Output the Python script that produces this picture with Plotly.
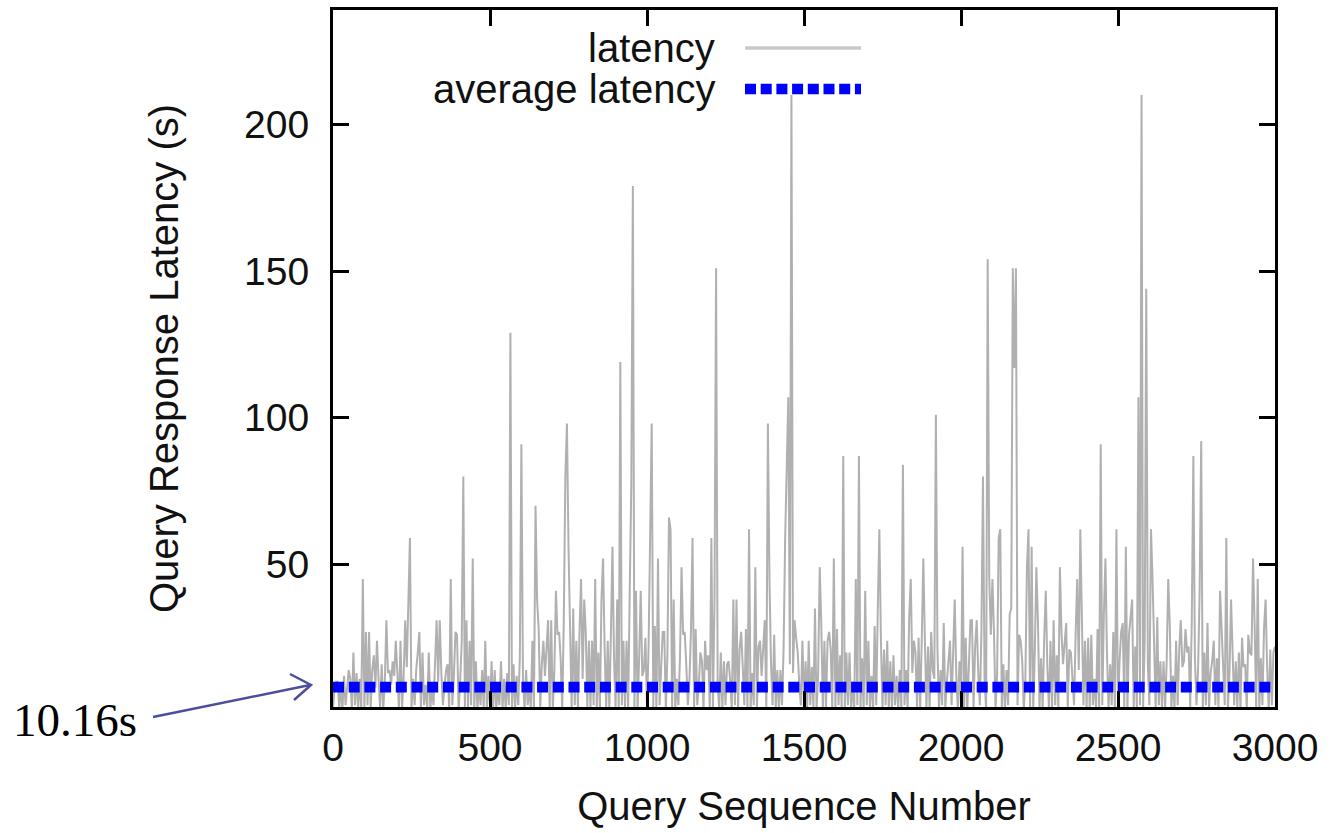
import plotly.graph_objects as go

# ---------------- data ----------------
QUERY_STEP = 5
# background latency level, one row per 100 queries (20 samples of step 5)
base_rows = [
    [1, 8, 0.5, 10, 1, 9, 0.5, 12, 2, 8, 0.5, 11, 1, 9, 2, 13, 0.5, 11, 1, 10],
    [0.5, 12, 2, 9, 1, 14, 0.5, 8, 2, 11, 1, 16, 0.5, 10, 2, 13, 1, 9, 0.5, 12],
    [2, 13, 0.5, 9, 1, 12, 2, 15, 0.5, 8, 1, 11, 2, 14, 0.5, 10, 1, 17, 2, 9],
    [1, 11, 0.5, 9, 2, 14, 1, 10, 0.5, 13, 2, 8, 1, 16, 0.5, 10, 2, 12, 1, 14],
    [0.5, 10, 2, 13, 1, 11, 0.5, 15, 2, 9, 1, 12, 0.5, 10, 2, 14, 1, 8, 0.5, 12],
    [2, 10, 1, 14, 0.5, 9, 2, 17, 1, 11, 0.5, 13, 2, 9, 1, 16, 0.5, 12, 2, 18],
    [1, 11, 0.5, 25, 2, 8, 1, 19, 0.5, 12, 2, 28, 1, 16, 0.5, 12, 2, 20, 1, 24],
    [0.5, 14, 2, 26, 1, 18, 0.5, 12, 2, 21, 1, 30, 0.5, 15, 2, 13, 1, 27, 0.5, 11],
    [2, 16, 1, 24, 0.5, 20, 2, 13, 1, 29, 0.5, 10, 2, 22, 1, 12, 0.5, 26, 2, 18],
    [1, 13, 0.5, 19, 2, 31, 1, 16, 0.5, 21, 2, 9, 1, 27, 0.5, 18, 2, 12, 1, 25],
    [0.5, 22, 2, 15, 1, 29, 0.5, 12, 2, 17, 1, 25, 0.5, 19, 2, 13, 1, 32, 0.5, 11],
    [2, 18, 1, 26, 0.5, 16, 2, 10, 1, 21, 0.5, 28, 2, 9, 1, 17, 0.5, 24, 2, 19],
    [1, 27, 0.5, 17, 2, 9, 1, 20, 0.5, 30, 2, 16, 1, 10, 0.5, 25, 2, 14, 1, 21],
    [0.5, 15, 2, 28, 1, 19, 0.5, 13, 2, 24, 1, 22, 0.5, 12, 2, 31, 1, 10, 0.5, 16],
    [2, 26, 1, 18, 0.5, 14, 2, 21, 1, 29, 0.5, 16, 2, 13, 1, 25, 0.5, 9, 2, 23],
    [1, 17, 0.5, 27, 2, 15, 1, 20, 0.5, 12, 2, 30, 1, 9, 0.5, 24, 2, 21, 1, 11],
    [0.5, 28, 2, 19, 1, 11, 0.5, 26, 2, 22, 1, 10, 0.5, 31, 2, 12, 1, 18, 0.5, 25],
    [2, 20, 1, 12, 0.5, 29, 2, 9, 1, 24, 0.5, 21, 2, 13, 1, 27, 0.5, 19, 2, 12],
    [1, 14, 0.5, 26, 2, 10, 1, 32, 0.5, 13, 2, 20, 1, 25, 0.5, 17, 2, 9, 1, 22],
    [0.5, 27, 2, 11, 1, 21, 0.5, 14, 2, 30, 1, 10, 0.5, 24, 2, 19, 1, 12, 0.5, 28],
    [2, 12, 1, 25, 0.5, 15, 2, 31, 1, 22, 0.5, 13, 2, 27, 1, 11, 0.5, 20, 2, 26],
    [1, 29, 0.5, 13, 2, 24, 1, 16, 0.5, 21, 2, 33, 1, 19, 0.5, 14, 2, 26, 1, 17],
    [0.5, 11, 2, 28, 1, 14, 0.5, 20, 2, 31, 1, 18, 0.5, 25, 2, 15, 1, 22, 0.5, 29],
    [2, 19, 1, 27, 0.5, 16, 2, 30, 1, 21, 0.5, 11, 2, 26, 1, 14, 0.5, 32, 2, 20],
    [1, 25, 0.5, 21, 2, 11, 1, 28, 0.5, 14, 2, 33, 1, 19, 0.5, 16, 2, 27, 1, 18],
    [0.5, 17, 2, 30, 1, 20, 0.5, 26, 2, 15, 1, 22, 0.5, 31, 2, 18, 1, 24, 0.5, 16],
    [2, 27, 1, 16, 0.5, 32, 2, 19, 1, 24, 0.5, 17, 2, 29, 1, 12, 0.5, 25, 2, 21],
    [1, 15, 0.5, 28, 2, 22, 1, 31, 0.5, 18, 2, 14, 1, 26, 0.5, 20, 2, 30, 1, 13],
    [0.5, 24, 2, 18, 1, 29, 0.5, 15, 2, 27, 1, 13, 0.5, 22, 2, 31, 1, 19, 0.5, 25],
    [2, 16, 1, 26, 0.5, 19, 2, 30, 1, 23, 0.5, 18, 2, 28, 1, 15, 0.5, 21, 2, 27],
]
last_value = 22  # query 3000

# individual latency spikes (query number, seconds)
spike_x = [10, 50, 65, 95, 105, 115, 130, 140, 170, 180, 190, 200, 215, 230, 240, 245,
           270, 275, 285, 305, 330, 340, 360, 375, 390, 395, 410, 415, 425, 435, 445, 455,
           485, 505,
           565, 600, 615, 635, 645, 650, 670, 680, 685, 695, 710, 720, 735, 740, 745, 750,
           765, 775, 790, 800, 805, 825, 835, 845, 855, 860, 875, 890, 905, 915, 925, 935,
           945, 950, 955, 965, 980, 990, 1010, 1015, 1035, 1050,
           1055, 1070, 1075, 1085, 1110, 1120, 1140, 1145, 1170, 1190, 1205, 1215, 1220,
           1245, 1260, 1275, 1285, 1300, 1325, 1345, 1360, 1370, 1385, 1390, 1415, 1440,
           1445, 1450, 1460, 1470, 1480, 1495, 1515, 1535, 1550, 1565, 1580,
           1595, 1625, 1635, 1645, 1665, 1675, 1695, 1705, 1735, 1740, 1765, 1775, 1815,
           1825, 1840, 1850, 1875, 1880, 1885, 1910, 1920, 1935, 1960, 1980, 1995, 2005,
           2030, 2050, 2070, 2085, 2090, 2100, 2105,
           2120, 2125, 2145, 2160, 2165, 2170, 2175, 2190, 2210, 2215, 2225, 2240, 2270,
           2285, 2295, 2315, 2320, 2330, 2350, 2370, 2380, 2395, 2415, 2445, 2460, 2495,
           2510, 2525, 2540, 2545, 2565, 2575, 2590, 2605, 2610,
           2635, 2645, 2660, 2685, 2700, 2710, 2720, 2740, 2760, 2765, 2800, 2825, 2830,
           2845, 2860, 2875, 2885, 2900, 2920, 2930, 2945, 2970, 2995]
spike_y = [10, 14, 20, 45, 27, 27, 19, 24, 31, 14, 17, 24, 24, 31, 41, 59,
           20, 27, 20, 20, 31, 31, 14, 45, 27, 26, 24, 80, 31, 24, 52, 17,
           24, 17,
           129, 91, 14, 24, 70, 38, 24, 24, 31, 31, 41, 27, 31, 80, 98, 56,
           35, 24, 45, 38, 27, 24, 45, 20, 38, 52, 24, 56, 38, 119, 24, 24,
           41, 77, 179, 41, 41, 14, 57, 98, 52, 27,
           27, 66, 62, 38, 49, 27, 27, 59, 20, 14, 59, 38, 151,
           17, 17, 38, 38, 27, 62, 49, 24, 24, 98, 45, 14, 59,
           84, 107, 210, 31, 20, 24, 24, 35, 49, 24, 27,
           52, 87, 20, 20, 45, 87, 41, 24, 35, 62, 24, 17, 84,
           14, 45, 24, 24, 52, 24, 14, 101, 14, 17, 38, 17, 56,
           31, 31, 80, 154, 45, 45, 27,
           59, 62, 14, 35, 151, 117, 151, 24, 49, 62, 56, 49, 41,
           24, 31, 49, 27, 24, 20, 45, 62, 24, 26, 91, 52, 62,
           27, 56, 31, 38, 107, 210, 144, 62, 45,
           17, 17, 45, 24, 31, 17, 20, 87, 41, 92, 17, 41, 24,
           59, 38, 17, 20, 15, 20, 52, 45, 38, 20]

avg_latency = 8.2          # level of the dashed average line as drawn
avg_label = "10.16s"

x_ticks = [0, 500, 1000, 1500, 2000, 2500, 3000]
y_ticks = [50, 100, 150, 200]

# ---------------- assemble series ----------------
latency = [v for row in base_rows for v in row] + [last_value]
for sx, sy in zip(spike_x, spike_y):
    latency[sx // QUERY_STEP] = sy
query = list(range(0, 3001, QUERY_STEP))

# ---------------- figure ----------------
W, H = 1332, 833
L, R, T, B = 333, 57, 10, 126
pw, ph = W - L - R, H - T - B


def px(x):
    return (x - L) / pw


def py(y):
    return (H - B - y) / ph


FONT = "Liberation Sans, Arial, Helvetica, sans-serif"

fig = go.Figure()
fig.add_trace(go.Scatter(
    x=query, y=latency, mode="lines", name="latency",
    line=dict(color="rgb(176,176,176)", width=2.0), showlegend=False,
))
fig.add_trace(go.Scatter(
    x=[0, 3000], y=[avg_latency, avg_latency], mode="lines", name="average latency",
    line=dict(color="#0000ff", width=10.7, dash="11px,4.7px"), showlegend=False,
))

axis_common = dict(
    showline=True, linecolor="black", linewidth=3, mirror="ticks",
    ticks="inside", ticklen=16, tickwidth=3, tickcolor="black",
    showgrid=False, zeroline=False, automargin=False,
    tickfont=dict(family=FONT, size=39, color="#111111"),
)

fig.update_layout(
    width=W, height=H,
    margin=dict(l=L, r=R, t=T, b=B, pad=0, autoexpand=False),
    paper_bgcolor="white", plot_bgcolor="white",
    showlegend=False,
    xaxis=dict(range=[0, 3000], tickvals=x_ticks, ticklabelstandoff=4,
               title=dict(text="Query Sequence Number", standoff=25,
                          font=dict(family=FONT, size=40, color="#111111")),
               **axis_common),
    yaxis=dict(range=[1.4, 239], tickvals=y_ticks, ticklabelstandoff=13,
               title=dict(text="Query Response Latency (s)", standoff=54,
                          font=dict(family=FONT, size=40, color="#111111")),
               **axis_common),
)

# legend drawn gnuplot-style (text right-aligned, sample to the right)
leg_text_x = px(717)
for label, ypix in [("latency", 48), ("average latency", 89)]:
    fig.add_annotation(x=leg_text_x, y=py(ypix), xref="paper", yref="paper",
                       text=label, showarrow=False, xanchor="right", yanchor="middle",
                       font=dict(family=FONT, size=40, color="#111111"))
fig.add_shape(type="line", xref="paper", yref="paper",
              x0=px(745), x1=px(861), y0=py(48), y1=py(48),
              line=dict(color="rgb(200,200,200)", width=3.5))
fig.add_shape(type="line", xref="paper", yref="paper",
              x0=px(745), x1=px(861), y0=py(89), y1=py(89),
              line=dict(color="#0000ff", width=10.7, dash="11px,4.7px"))

# "10.16s" call-out with open arrow
ARROW = "#4b4f9b"
fig.add_annotation(x=px(75), y=py(720), xref="paper", yref="paper",
                   text=avg_label, showarrow=False, xanchor="center", yanchor="middle",
                   font=dict(family="Liberation Serif, Times New Roman, serif", size=47,
                             color="black"))
fig.add_shape(type="line", xref="paper", yref="paper",
              x0=px(153), y0=py(717), x1=px(310), y1=py(685),
              line=dict(color=ARROW, width=2.5))
fig.add_shape(type="path", xref="paper", yref="paper",
              path=f"M {px(290)} {py(674)} L {px(311)} {py(685)} L {px(294)} {py(700)}",
              line=dict(color=ARROW, width=2.5))

fig.write_html("out.html")
